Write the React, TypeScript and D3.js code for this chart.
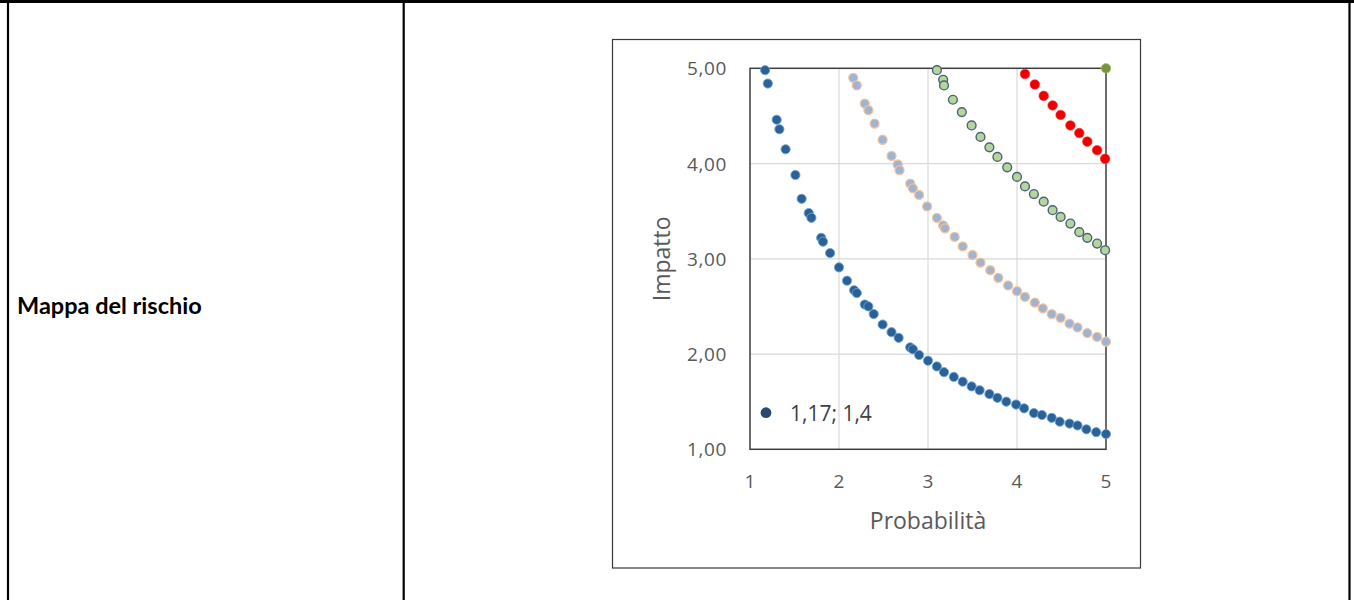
import React from "react";
import * as d3 from "d3";

// ---- Data ----
const xTicks = [1, 2, 3, 4, 5];
const yTicks = [1, 2, 3, 4, 5];
const legendName = "1,17; 1,4";
const rowLabel = "Mappa del rischio";
const xTitle = "Probabilità";
const yTitle = "Impatto";

const blueX = [1.17, 1.2, 1.3, 1.33, 1.4, 1.51, 1.58, 1.66, 1.69, 1.8, 1.82, 1.9, 2.0, 2.09, 2.17, 2.2, 2.29, 2.33, 2.39, 2.49, 2.59, 2.67, 2.8, 2.83, 2.9, 3.0, 3.1, 3.18, 3.29, 3.39, 3.49, 3.58, 3.69, 3.78, 3.88, 3.99, 4.08, 4.19, 4.28, 4.39, 4.48, 4.59, 4.68, 4.78, 4.89, 5.0];
const blueY = [4.98, 4.84, 4.46, 4.36, 4.15, 3.88, 3.63, 3.48, 3.43, 3.22, 3.18, 3.06, 2.91, 2.77, 2.67, 2.64, 2.52, 2.5, 2.42, 2.31, 2.23, 2.17, 2.07, 2.05, 1.99, 1.93, 1.87, 1.81, 1.76, 1.71, 1.66, 1.62, 1.58, 1.54, 1.5, 1.47, 1.43, 1.38, 1.36, 1.33, 1.29, 1.27, 1.25, 1.21, 1.18, 1.16];

const orangeX = [2.16, 2.2, 2.29, 2.33, 2.4, 2.49, 2.59, 2.66, 2.68, 2.8, 2.83, 2.9, 2.99, 3.1, 3.17, 3.19, 3.3, 3.39, 3.5, 3.59, 3.7, 3.79, 3.9, 4.0, 4.09, 4.2, 4.29, 4.39, 4.49, 4.59, 4.68, 4.79, 4.9, 5.0];
const orangeY = [4.9, 4.82, 4.63, 4.56, 4.42, 4.25, 4.08, 3.99, 3.93, 3.79, 3.74, 3.67, 3.55, 3.43, 3.35, 3.32, 3.23, 3.13, 3.04, 2.96, 2.88, 2.8, 2.72, 2.66, 2.6, 2.54, 2.48, 2.42, 2.38, 2.32, 2.28, 2.22, 2.18, 2.13];

const greenX = [3.1, 3.17, 3.18, 3.28, 3.38, 3.49, 3.59, 3.69, 3.78, 3.89, 4.0, 4.09, 4.19, 4.3, 4.4, 4.49, 4.6, 4.7, 4.79, 4.9, 4.99];
const greenY = [4.98, 4.88, 4.82, 4.67, 4.54, 4.4, 4.28, 4.17, 4.07, 3.96, 3.86, 3.76, 3.68, 3.6, 3.51, 3.44, 3.37, 3.28, 3.22, 3.16, 3.09];

const redX = [4.09, 4.2, 4.3, 4.4, 4.49, 4.6, 4.7, 4.79, 4.9, 4.99];
const redY = [4.94, 4.83, 4.71, 4.61, 4.51, 4.4, 4.32, 4.23, 4.14, 4.05];

const oliveX = [5];
const oliveY = [5];

// ---- Layout ----
const W = 1354;
const H = 600;
const plot = { left: 750, right: 1106, top: 68.3, bottom: 449.3 };
const frame = { x: 612.5, y: 39.5, w: 528, h: 528.5 };

const itLocale = d3.formatLocale({ decimal: ",", thousands: ".", grouping: [3], currency: ["", "€"] });
const fmtY = itLocale.format(".2f");

const FONT = "'Open Sans', 'Segoe UI', sans-serif";

export default function App() {
  const x = d3.scaleLinear().domain([1, 5]).range([plot.left, plot.right]);
  const y = d3.scaleLinear().domain([1, 5]).range([plot.bottom, plot.top]);

  const series = [
    { xs: blueX, ys: blueY, fill: "#2a6196", stroke: "#6fa3d6", sw: 0.9, r: 4.6 },
    { xs: orangeX, ys: orangeY, fill: "#9fb3d2", stroke: "#f3c39c", sw: 1.3, r: 4.5 },
    { xs: greenX, ys: greenY, fill: "#b4d69a", stroke: "#4d6376", sw: 1.4, r: 4.4 },
    { xs: redX, ys: redY, fill: "#ee0000", stroke: "#ff3030", sw: 0.6, r: 4.8 },
    { xs: oliveX, ys: oliveY, fill: "#77963d", stroke: "#a6bd7a", sw: 0.6, r: 4.8 },
  ];

  return (
    <svg
      width={W}
      height={H}
      style={{ position: "absolute", left: 0, top: 0, display: "block", background: "#fff" }}
    >
      {/* table borders */}
      <line x1={0} x2={W} y1={1.5} y2={1.5} stroke="#000" strokeWidth={3} />
      <line x1={8} x2={8} y1={0} y2={H} stroke="#000" strokeWidth={2.2} />
      <line x1={403.7} x2={403.7} y1={0} y2={H} stroke="#000" strokeWidth={2.2} />
      <line x1={1349.5} x2={1349.5} y1={0} y2={H} stroke="#000" strokeWidth={2.2} />

      <text
        x={17}
        y={305}
        dominantBaseline="central"
        fontFamily="Lato, 'Open Sans', sans-serif"
        fontWeight={700}
        fontSize={23.5}
        fill="#000"
      >
        {rowLabel}
      </text>

      {/* chart frame */}
      <rect x={frame.x} y={frame.y} width={frame.w} height={frame.h} fill="#fff" stroke="#3a3a3a" strokeWidth={1.2} />

      {/* gridlines */}
      {xTicks.slice(1, -1).map((t) => (
        <line key={"gx" + t} x1={x(t)} x2={x(t)} y1={plot.top} y2={plot.bottom} stroke="#d9d9d9" strokeWidth={1.2} />
      ))}
      {yTicks.slice(1, -1).map((t) => (
        <line key={"gy" + t} x1={plot.left} x2={plot.right} y1={y(t)} y2={y(t)} stroke="#d9d9d9" strokeWidth={1.2} />
      ))}

      {/* plot border */}
      <rect
        x={plot.left}
        y={plot.top}
        width={plot.right - plot.left}
        height={plot.bottom - plot.top}
        fill="none"
        stroke="#3d3d3d"
        strokeWidth={1.5}
      />

      {/* y tick labels */}
      {yTicks.map((t) => (
        <text
          key={"yt" + t}
          x={plot.left - 23}
          y={y(t)}
          textAnchor="end"
          dominantBaseline="central"
          fontFamily={FONT}
          fontSize={19}
          letterSpacing={0.6}
          fill="#595959"
        >
          {fmtY(t)}
        </text>
      ))}
      {/* x tick labels */}
      {xTicks.map((t) => (
        <text
          key={"xt" + t}
          x={x(t)}
          y={481}
          textAnchor="middle"
          dominantBaseline="central"
          fontFamily={FONT}
          fontSize={19}
          fill="#595959"
        >
          {String(t)}
        </text>
      ))}

      {/* axis titles */}
      <text
        x={(plot.left + plot.right) / 2}
        y={520}
        textAnchor="middle"
        dominantBaseline="central"
        fontFamily={FONT}
        fontSize={23}
        fill="#595959"
      >
        {xTitle}
      </text>
      <text
        transform={`translate(661,${(plot.top + plot.bottom) / 2}) rotate(-90)`}
        textAnchor="middle"
        dominantBaseline="central"
        fontFamily={FONT}
        fontSize={23}
        fill="#595959"
      >
        {yTitle}
      </text>

      {/* points */}
      {series.map((s, si) => (
        <g key={"s" + si}>
          {s.xs.map((v, i) => (
            <circle key={i} cx={x(v)} cy={y(s.ys[i])} r={s.r} fill={s.fill} stroke={s.stroke} strokeWidth={s.sw} />
          ))}
        </g>
      ))}

      {/* legend */}
      <circle cx={766} cy={412.7} r={5.4} fill="#264b70" />
      <text x={790} y={412.7} dominantBaseline="central" fontFamily={FONT} fontSize={21} fill="#404040">
        {legendName}
      </text>
    </svg>
  );
}
